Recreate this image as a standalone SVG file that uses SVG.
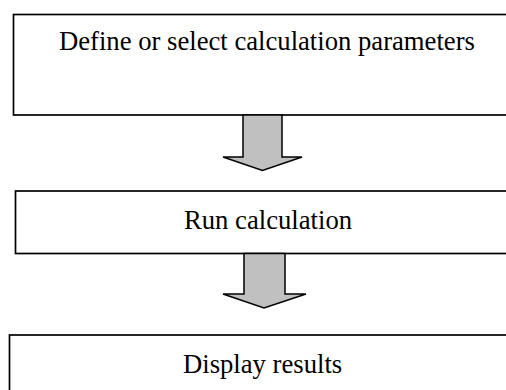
<svg xmlns="http://www.w3.org/2000/svg" width="506" height="390" viewBox="0 0 506 390">
  <style>
    .box { fill: #ffffff; stroke: #000000; stroke-width: 1.7; }
    .label { font-family: "Liberation Serif", "Times New Roman", serif; font-size: 26.67px; fill: #000000; }
    .arrow { fill: #c0c0c0; stroke: #000000; stroke-width: 1.5; stroke-linejoin: miter; }
  </style>
  <rect width="506" height="390" fill="#ffffff"/>

  <g id="define-params">
    <rect class="box" x="13.5" y="14.5" width="520" height="100.5"/>
    <text class="label" x="59" y="49.5">Define or select calculation parameters</text>
  </g>

  <g id="run-calc">
    <rect class="box" x="15.5" y="191" width="520" height="62.5"/>
    <text class="label" x="184" y="229">Run calculation</text>
  </g>

  <g id="display-results">
    <rect class="box" x="9.5" y="335" width="520" height="80"/>
    <text class="label" x="183" y="373">Display results</text>
  </g>

  <g id="connectors">
    <polygon class="arrow" points="243,115 282,115 282,157 302,157 262.5,170.5 223,157 243,157"/>
    <polygon class="arrow" points="244,253.5 285,253.5 285,294 306,294 264,308 223,294 244,294"/>
  </g>
</svg>
